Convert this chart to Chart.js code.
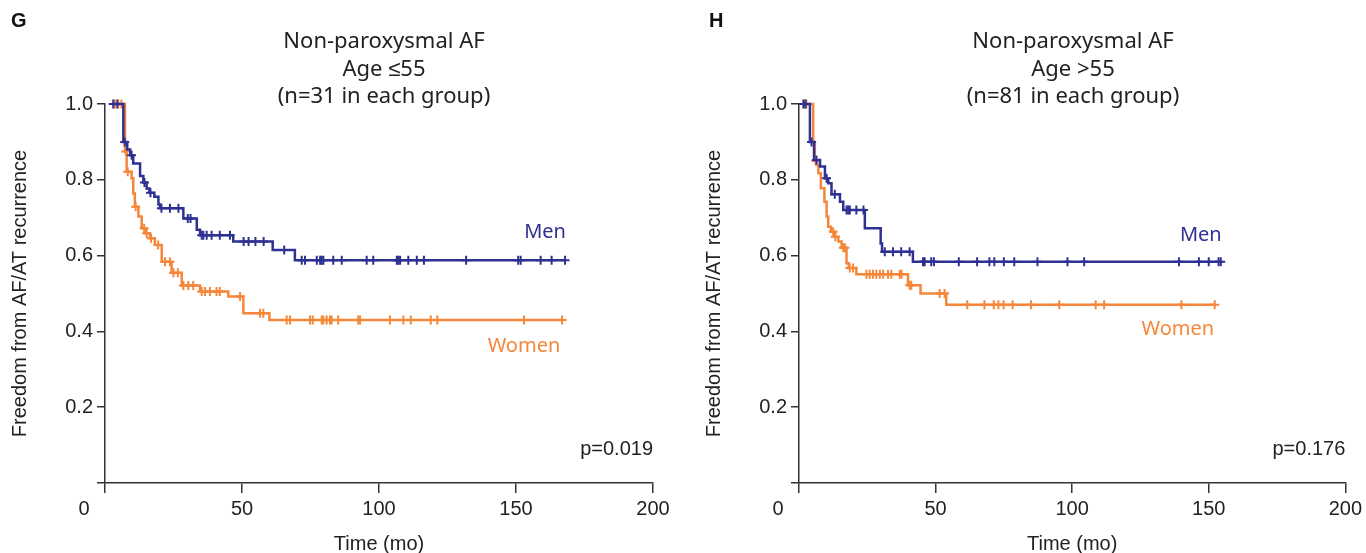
<!DOCTYPE html>
<html>
<head>
<meta charset="utf-8">
<title>Non-paroxysmal AF by age</title>
<script src="https://cdn.jsdelivr.net/npm/chart.js@4.4.0/dist/chart.umd.min.js"></script>
<style>
    html, body { margin: 0; padding: 0; background: #fff; }
    #wrap { position: relative; width: 1366px; height: 553px; overflow: hidden; }
    .panel { position: absolute; top: 0; width: 683px; height: 553px; }
</style>
</head>
<body>
<div id="wrap">
    <div class="panel" style="left:0"><canvas id="chartG" width="683" height="553"></canvas></div>
    <div class="panel" style="left:683px"><canvas id="chartH" width="683" height="553"></canvas></div>
</div>
<script>
// axis ticks
var xTicks = [0, 50, 100, 150, 200];
var yTicks = [0, 0.2, 0.4, 0.6, 0.8, 1.0];

// G: age <=55, time (mo), survival, censored flag (1 = censor mark)
var menG_time = [3.0, 4.5, 6.7, 7.2, 8.1, 9.2, 9.7, 10.3, 12.8, 14.0, 14.4, 15.2, 16.2, 16.6, 18.0, 19.5, 20.1, 20.6, 23.7, 26.8,
    28.6, 30.2, 31.2, 33.5, 34.7, 35.3, 35.9, 37.1, 38.9, 41.9, 45.6, 46.8, 50.6, 52.4, 54.9, 57.9, 61.2, 65.4, 69.3,
    71.8, 73.0, 77.3, 78.5, 79.1, 79.7, 83.3, 86.4, 95.5, 97.9, 106.5, 107.0, 107.7, 110.7, 113.8, 116.4, 131.8, 150.8, 151.7, 159.0, 163.0, 167.9];
var menG_surv = [1.0, 1.0, 0.90, 0.90, 0.88, 0.865, 0.865, 0.843, 0.81, 0.793, 0.793, 0.777, 0.766, 0.766, 0.755, 0.735, 0.725, 0.725, 0.725, 0.725,
    0.698, 0.698, 0.698, 0.668, 0.654, 0.654, 0.654, 0.654, 0.654, 0.654, 0.654, 0.637, 0.637, 0.637, 0.637, 0.637, 0.615, 0.615, 0.588,
    0.588, 0.588, 0.588, 0.588, 0.588, 0.588, 0.588, 0.588, 0.588, 0.588, 0.588, 0.588, 0.588, 0.588, 0.588, 0.588, 0.588, 0.588, 0.588, 0.588, 0.588, 0.588];
var menG_cens = [1, 1, 0, 1, 0, 0, 1, 0, 0, 0, 1, 0, 0, 1, 0, 0, 0, 1, 1, 1,
    0, 1, 1, 0, 0, 1, 1, 1, 1, 1, 1, 0, 1, 1, 1, 1, 0, 1, 0,
    1, 1, 1, 1, 1, 1, 1, 1, 1, 1, 1, 1, 1, 1, 1, 1, 1, 1, 1, 1, 1, 1];

var womenG_time = [3.6, 4.8, 6.0, 7.3, 7.6, 7.9, 8.3, 9.7, 10.3, 10.9, 11.2, 12.2, 13.4, 14.3, 14.6, 15.2, 16.4, 16.8, 18.2, 19.4,
    20.7, 21.9, 23.7, 24.3, 25.0, 26.6, 28.0, 28.6, 30.4, 32.2, 34.7, 35.3, 36.5, 38.3, 40.7, 41.9, 45.0, 49.3, 50.5, 56.6, 57.8, 60.0,
    66.3, 67.5, 74.8, 75.8, 79.1, 79.7, 80.9, 82.1, 82.7, 85.1, 92.4, 93.1, 104.0, 108.9, 111.6, 118.9, 121.3, 152.9, 166.8];
var womenG_surv = [1.0, 1.0, 1.0, 0.875, 0.875, 0.821, 0.821, 0.804, 0.764, 0.729, 0.729, 0.703, 0.672, 0.672, 0.659, 0.659, 0.646, 0.646, 0.628, 0.628,
    0.584, 0.584, 0.584, 0.555, 0.555, 0.555, 0.521, 0.521, 0.521, 0.521, 0.505, 0.505, 0.505, 0.505, 0.505, 0.505, 0.492, 0.492, 0.448, 0.448, 0.448, 0.43,
    0.43, 0.43, 0.43, 0.43, 0.43, 0.43, 0.43, 0.43, 0.43, 0.43, 0.43, 0.43, 0.43, 0.43, 0.43, 0.43, 0.43, 0.43, 0.43];
var womenG_cens = [1, 1, 1, 0, 1, 0, 1, 0, 0, 0, 1, 0, 0, 1, 0, 1, 0, 1, 0, 1,
    0, 1, 1, 0, 1, 1, 0, 1, 1, 1, 0, 1, 1, 1, 1, 1, 0, 1, 0, 1, 1, 0,
    1, 1, 1, 1, 1, 1, 1, 1, 1, 1, 1, 1, 1, 1, 1, 1, 1, 1, 1];

// H: age >55
var menH_time = [1.6, 2.4, 4.0, 4.6, 5.5, 6.4, 7.7, 9.5, 10.1, 10.7, 11.9, 13.1, 15.0, 16.2, 17.4, 18.0, 18.6, 21.0, 23.6, 24.1,
    29.9, 30.4, 31.4, 34.4, 37.4, 40.5, 41.7,
    45.4, 46.0, 48.4, 49.4, 58.5, 65.2, 69.7, 71.5, 75.0, 78.8, 87.3, 98.3, 104.4, 139.1, 146.4, 150.0, 153.6, 154.4];
var menH_surv = [1.0, 1.0, 0.90, 0.90, 0.852, 0.852, 0.835, 0.804, 0.804, 0.791, 0.762, 0.762, 0.742, 0.72, 0.72, 0.72, 0.72, 0.72, 0.72, 0.672,
    0.632, 0.61, 0.61, 0.61, 0.61, 0.61, 0.584,
    0.584, 0.584, 0.584, 0.584, 0.584, 0.584, 0.584, 0.584, 0.584, 0.584, 0.584, 0.584, 0.584, 0.584, 0.584, 0.584, 0.584, 0.584];
var menH_cens = [1, 1, 0, 1, 0, 1, 0, 0, 1, 0, 0, 1, 0, 0, 1, 1, 1, 1, 1, 0,
    0, 0, 1, 1, 1, 1, 0,
    1, 1, 1, 1, 1, 1, 1, 1, 1, 1, 1, 1, 1, 1, 1, 1, 1, 1];

var womenH_time = [2.1, 2.7, 5.2, 5.8, 6.1, 6.4, 7.1, 8.0, 9.3, 10.1, 10.7, 11.7, 12.5, 13.1, 13.3, 14.4, 15.6, 16.2, 16.8, 17.4,
    18.2, 18.6, 19.8, 21.0, 24.7, 25.9, 27.1, 28.3, 29.6, 30.8, 32.6, 33.8, 36.9, 37.5, 39.9, 40.5, 41.1, 44.5, 51.5, 53.3, 53.9,
    61.6, 67.9, 71.3, 73.0, 74.9, 78.2, 84.9, 95.3, 108.6, 111.7, 140.0, 152.2];
var womenH_surv = [1.0, 1.0, 0.90, 0.85, 0.85, 0.839, 0.817, 0.778, 0.742, 0.703, 0.676, 0.663, 0.663, 0.65, 0.65, 0.637, 0.621, 0.621, 0.621, 0.58,
    0.567, 0.567, 0.567, 0.551, 0.551, 0.551, 0.551, 0.551, 0.551, 0.551, 0.551, 0.551, 0.551, 0.551, 0.522, 0.522, 0.522, 0.50, 0.50, 0.50, 0.47,
    0.47, 0.47, 0.47, 0.47, 0.47, 0.47, 0.47, 0.47, 0.47, 0.47, 0.47, 0.47];
var womenH_cens = [1, 1, 0, 0, 1, 0, 0, 0, 0, 0, 0, 0, 1, 0, 1, 0, 0, 1, 1, 0,
    0, 1, 1, 0, 1, 1, 1, 1, 1, 1, 1, 1, 1, 1, 0, 1, 1, 0, 1, 1, 0,
    1, 1, 1, 1, 1, 1, 1, 1, 1, 1, 1, 1];

var navy = '#2e3192';
var orange = '#f5873a';
var axisColor = '#333333';
var textColor = '#222222';

Chart.defaults.font.family = '"Liberation Sans", Arial, sans-serif';
Chart.defaults.color = textColor;

function toPoints(t, s) {
    var pts = [];
    for (var i = 0; i < t.length; i++) {
        pts.push({x: t[i], y: s[i]});
    }
    return pts;
}

// step drawn horizontal first, then down at the event time
function kmLine(label, t, s, cens, color) {
    return {
        label: label,
        data: toPoints(t, s),
        stepped: 'before',
        fill: false,
        borderColor: color,
        borderWidth: 2.5,
        pointStyle: 'cross',
        pointRadius: function(ctx) { return cens[ctx.dataIndex] ? 4.5 : 0; },
        pointBorderWidth: 2,
        pointBorderColor: color,
        pointBackgroundColor: color,
        clip: 8,
    };
}

// titles, group labels, p value, origin label
const kmText = {
    id: 'kmText',
    afterDraw(chart, args, opts) {
        var ctx = chart.ctx;
        var xs = chart.scales.x, ys = chart.scales.y;
        ctx.save();
        ctx.textBaseline = 'middle';

        ctx.fillStyle = '#111';
        ctx.textAlign = 'left';
        ctx.font = 'bold 20px "Liberation Sans", Arial, sans-serif';
        ctx.fillText(opts.letter, opts.letterX, 21);

        ctx.fillStyle = textColor;
        ctx.textAlign = 'center';
        ctx.font = '22px "Noto Sans", sans-serif';
        for (var i = 0; i < opts.title.length; i++) {
            ctx.fillText(opts.title[i], opts.titleX, 42 + i * 27.5);
        }

        ctx.font = '20px "Liberation Sans", Arial, sans-serif';
        ctx.fillText('0', xs.left - 21, 509);

        ctx.textAlign = 'right';
        ctx.fillText(opts.p, xs.right, 449);

        ctx.font = '20px "Noto Sans", sans-serif';
        ctx.textAlign = 'center';
        opts.labels.forEach(function(l) {
            ctx.fillStyle = l.color;
            ctx.fillText(l.text, xs.getPixelForValue(l.x), ys.getPixelForValue(l.y));
        });
        ctx.restore();
    }
};

function makeChart(id, plotLeft, datasets, textOpts) {
    return new Chart(document.getElementById(id), {
        type: 'line',
        data: { datasets: datasets },
        plugins: [kmText],
        options: {
            responsive: false,
            animation: false,
            events: [],
            layout: { padding: { top: 104, right: 683 - plotLeft - 548, left: 0, bottom: 0 } },
            plugins: {
                legend: { display: false },
                tooltip: { enabled: false },
                kmText: textOpts,
            },
            scales: {
                x: {
                    type: 'linear',
                    min: xTicks[0],
                    max: xTicks[xTicks.length - 1],
                    afterBuildTicks: function(scale) { scale.ticks = xTicks.map(function(v) { return {value: v}; }); },
                    afterFit: function(scale) { scale.height = 70; },
                    ticks: {
                        callback: function(v) { return v === 0 ? '' : v; },
                        font: { size: 20 },
                        color: textColor,
                        padding: 4,
                        maxRotation: 0,
                    },
                    grid: { drawOnChartArea: false, drawTicks: true, tickLength: 10, color: axisColor, lineWidth: 1.5 },
                    border: { display: true, color: axisColor, width: 1.5 },
                    title: { display: true, text: 'Time (mo)', font: { size: 20 }, color: textColor, padding: { top: 0, bottom: -3 } },
                },
                y: {
                    min: yTicks[0],
                    max: yTicks[yTicks.length - 1],
                    afterBuildTicks: function(scale) { scale.ticks = yTicks.map(function(v) { return {value: v}; }); },
                    afterFit: function(scale) { scale.width = plotLeft; },
                    ticks: {
                        callback: function(v) { return v === 0 ? '' : v.toFixed(1); },
                        font: { size: 20 },
                        color: textColor,
                        padding: 4,
                    },
                    grid: { drawOnChartArea: false, drawTicks: true, tickLength: 8, color: axisColor, lineWidth: 1.5 },
                    border: { display: true, color: axisColor, width: 1.5 },
                    title: { display: true, text: 'Freedom from AF/AT recurrence', font: { size: 20 }, color: textColor, padding: { top: plotLeft - 97, bottom: 0 } },
                },
            },
        },
    });
}

var chartG = makeChart('chartG', 105, [
    kmLine('Men', menG_time, menG_surv, menG_cens, navy),
    kmLine('Women', womenG_time, womenG_surv, womenG_cens, orange),
], {
    letter: 'G', letterX: 11, titleX: 384,
    title: ['Non-paroxysmal AF', 'Age \u226455', '(n=31 in each group)'],
    p: 'p=0.019',
    labels: [
        {text: 'Men', x: 160.6, y: 0.662, color: navy},
        {text: 'Women', x: 152.9, y: 0.361, color: orange},
    ],
});

var chartH = makeChart('chartH', 116, [
    kmLine('Men', menH_time, menH_surv, menH_cens, navy),
    kmLine('Women', womenH_time, womenH_surv, womenH_cens, orange),
], {
    letter: 'H', letterX: 26, titleX: 390,
    title: ['Non-paroxysmal AF', 'Age >55', '(n=81 in each group)'],
    p: 'p=0.176',
    labels: [
        {text: 'Men', x: 147.1, y: 0.654, color: navy},
        {text: 'Women', x: 138.7, y: 0.406, color: orange},
    ],
});
</script>
</body>
</html>
